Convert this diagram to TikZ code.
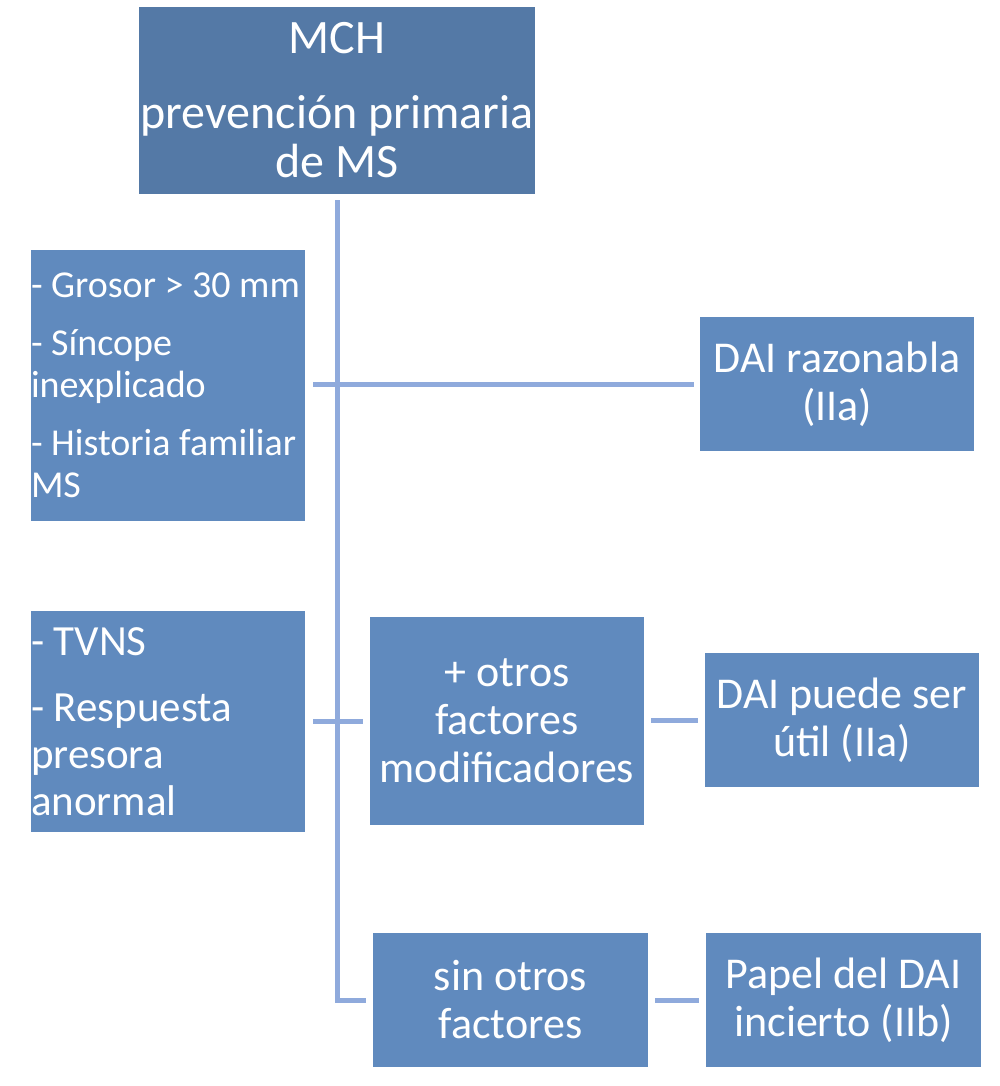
\documentclass[tikz,border=0pt]{standalone}
\usepackage{fontspec}
\setmainfont{Carlito}
\usetikzlibrary{calc,positioning}
\definecolor{boxblue}{RGB}{96,138,190}
\definecolor{topblue}{RGB}{84,121,166}
\definecolor{lineblue}{RGB}{143,170,220}
\tikzstyle{entry}=[fill=boxblue, text=white, inner sep=0pt, minimum width=274pt,
minimum height=134pt, align=center, font=\fontsize{44}{48}\selectfont]
\tikzstyle{lead} = [entry, fill=topblue, minimum width=396pt, minimum height=187pt,
font=\fontsize{48}{49}\selectfont]
\tikzstyle{crit} = [entry, text width=274pt, align=flush left]
\tikzstyle{link} = [draw=lineblue, line width=5pt]

\begin{document}
\begin{tikzpicture}[x=1pt,y=-1pt]
\useasboundingbox (0,0) rectangle (1000,1086);

\node (mch) at (337,100.5) [lead] {MCH\\[26pt]prevención primaria\\de MS};

\node (crit1) at (168,385.5) [crit, minimum height=271pt, font=\fontsize{38}{42}\selectfont]
{- Grosor > 30 mm\\[16pt]- Síncope\\inexplicado\\[16pt]- Historia familiar\\MS};
\node (razon) at (837,384) [entry] {DAI razonabla\\(IIa)};

\node (crit2) at (168,721.5) [crit, minimum height=221pt, font=\fontsize{43}{47}\selectfont]
{- TVNS\\[19pt]- Respuesta\\presora\\anormal};
\node (otros) at (507,721) [entry, minimum height=208pt] {+ otros\\factores\\modificadores};
\node (puede) at (842,720) [entry] {DAI puede ser\\útil (IIa)};

\node (sin) at (510.5,1000) [entry, minimum width=275pt] {sin otros\\factores};
\node (papel) at (843.5,1000) [entry, minimum width=275pt] {Papel del DAI\\incierto (IIb)};

\draw [link] ([yshift=-6pt]mch.south) |- ([xshift=-7pt]sin.west);
\draw [link] ([xshift=8pt]crit1.east |- razon.west) -- ([xshift=-6pt]razon.west);
\draw [link] ([xshift=8pt]crit2.east |- otros.west) -- ([xshift=-7pt]otros.west);
\draw [link] ([xshift=7pt]otros.east |- puede.west) -- ([xshift=-7pt]puede.west);
\draw [link] ([xshift=7pt]sin.east) -- ([xshift=-7pt]papel.west);

\end{tikzpicture}
\end{document}
